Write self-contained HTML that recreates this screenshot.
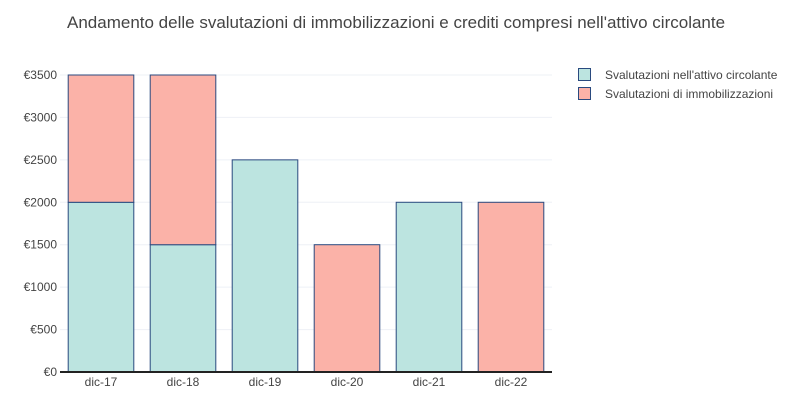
<!DOCTYPE html>
<html><head><meta charset="utf-8"><style>
body{margin:0;background:#fff;font-family:"Liberation Sans",Arial,sans-serif;}
svg{display:block}
</style></head><body>
<svg id="chart" width="793" height="400">
<text x="67" y="28" font-size="17" fill="#444">Andamento delle svalutazioni di immobilizzazioni e crediti compresi nell'attivo circolante</text>
<g id="grid"></g><g id="bars"></g><g id="axes"></g>
<g>
<g><rect x="578.5" y="68.5" width="12" height="12" fill="#bce4e0" stroke="#2a4a7f"/><text x="605" y="79" font-size="12" fill="#444">Svalutazioni nell'attivo circolante</text></g>
<g><rect x="578.5" y="87.5" width="12" height="12" fill="#fbb2a8" stroke="#2a4a7f"/><text x="605" y="98" font-size="12" fill="#444">Svalutazioni di immobilizzazioni</text></g>
</g>
</svg>
<script>
const categories=["dic-17","dic-18","dic-19","dic-20","dic-21","dic-22"];
const circolante=[2000,1500,2500,0,2000,0];
const immobilizzazioni=[1500,2000,0,1500,0,2000];
const yTicks=[0,500,1000,1500,2000,2500,3000,3500];
const NS="http://www.w3.org/2000/svg";
const x0=60,x1=552,y0=372,yTop=75,yMax=3500;
const y=v=>y0-(v/yMax)*(y0-yTop);
const step=(x1-x0)/categories.length;
const xc=i=>x0+step*(i+0.5);
function mk(t,a,p){const e=document.createElementNS(NS,t);for(const k in a)e.setAttribute(k,a[k]);p.appendChild(e);return e;}
const grid=document.getElementById('grid'),bars=document.getElementById('bars'),axes=document.getElementById('axes');
yTicks.forEach(v=>{
 if(v>0){const l=mk('line',{x1:x0,x2:x1,y1:y(v),y2:y(v),stroke:'#eef0f6'},grid);
 
 }
 const t=mk('text',{x:57,y:y(v)+4,'font-size':12,fill:'#444','text-anchor':'end'},axes);t.textContent='€'+v;
 
 
});
const bw=step*0.8;
categories.forEach((c,i)=>{
 let base=0;
 [[circolante,'#bce4e0','circolante'],[immobilizzazioni,'#fbb2a8','immobilizzazioni']].forEach(([arr,col,nm])=>{
  const v=arr[i];if(v<=0)return;
  const r=mk('rect',{x:xc(i)-bw/2,y:y(base+v),width:bw,height:y(base)-y(base+v),fill:col,stroke:'#2a4a7f','stroke-width':1},bars);
  
  
  base+=v;
 });
 const t=mk('text',{x:xc(i),y:386,'font-size':12,fill:'#444','text-anchor':'middle'},axes);t.textContent=c;
 
 
});
const ax=mk('line',{x1:x0,x2:x1,y1:y0,y2:y0,stroke:'#222','stroke-width':2},axes);


</script>
</body></html>
